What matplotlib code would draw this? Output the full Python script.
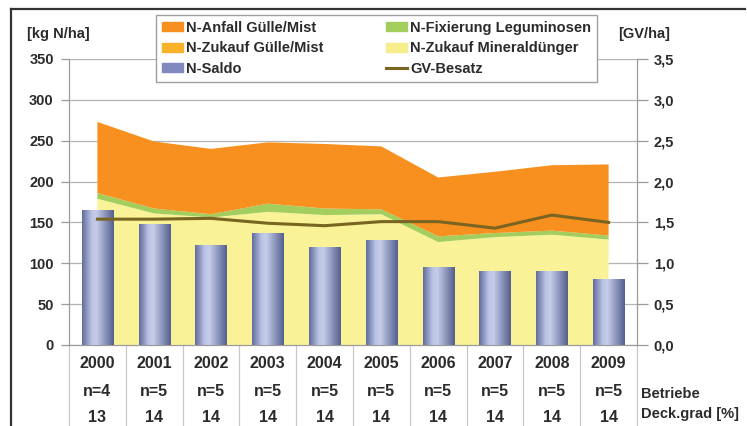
import numpy as np
import matplotlib
matplotlib.use("Agg")
import matplotlib.pyplot as plt
from matplotlib.colors import LinearSegmentedColormap
from matplotlib.patches import Patch
from matplotlib.lines import Line2D
from matplotlib.ticker import FuncFormatter

years = ["2000", "2001", "2002", "2003", "2004", "2005", "2006", "2007", "2008", "2009"]
betriebe = [4, 5, 5, 5, 5, 5, 5, 5, 5, 5]
deckgrad = [13, 14, 14, 14, 14, 14, 14, 14, 14, 14]

# kg N/ha
n_mineral = [179, 161, 156, 163, 159, 160, 126, 132, 135, 129]
n_legum = [7, 6, 4, 10, 8, 6, 7, 5, 5, 5]
n_zukauf_guelle = [0, 0, 0, 0, 0, 0, 0, 0, 0, 0]
n_anfall = [87, 82, 80, 75, 79, 77, 72, 75, 80, 87]
n_saldo = [165, 148, 122, 137, 120, 129, 95, 90, 90, 81]

# GV/ha
gv_besatz = [1.54, 1.54, 1.55, 1.49, 1.46, 1.51, 1.51, 1.43, 1.59, 1.50]

c_anfall = "#F7901E"
c_zukauf = "#FBB12A"
c_legum = "#A3CD5C"
c_mineral = "#FAF296"
c_gv = "#7A6422"
c_text = "#2b2b2b"

plt.rcParams["font.family"] = ["Liberation Sans", "DejaVu Sans"]
plt.rcParams["font.weight"] = "bold"

W, H = 747, 426
fig = plt.figure(figsize=(W / 100, H / 100), dpi=100)
ax = fig.add_axes([69 / W, 1 - 345 / H, 568 / W, 286 / H])
ax2 = ax.twinx()

x = np.arange(len(years))

ax.stackplot(x, n_mineral, n_legum, n_zukauf_guelle, n_anfall,
             colors=[c_mineral, c_legum, c_zukauf, c_anfall],
             linewidth=0, zorder=1)

# bars with cylinder-like gradient
cmap = LinearSegmentedColormap.from_list(
    "bar", [(0.0, "#636D9E"), (0.3, "#BCC4E4"), (0.45, "#C6CDEA"), (1.0, "#55608F")])
grad = np.linspace(0, 1, 64).reshape(1, -1)
bars = ax.bar(x, n_saldo, width=0.55, color="none", edgecolor="none", zorder=3)
for b in bars:
    im = ax.imshow(grad, cmap=cmap, aspect="auto", zorder=3,
                   extent=[b.get_x(), b.get_x() + b.get_width(), 0, b.get_height()])
    im.set_clip_path(b)

ax.set_xlim(-0.5, len(years) - 0.5)
ax.set_ylim(0, 350)
ax.set_yticks(np.arange(0, 351, 50))
ax.set_xticks([])
ax.grid(axis="y", color="#b4b4b4", linewidth=0.9)
ax.set_axisbelow(True)

ax2.plot(x, gv_besatz, color=c_gv, linewidth=2.2, zorder=5)
ax2.set_ylim(0, 3.5)
ax2.set_yticks(np.arange(0, 3.51, 0.5))
ax2.yaxis.set_major_formatter(FuncFormatter(lambda v, p: f"{v:.1f}".replace(".", ",")))

for a in (ax, ax2):
    a.spines["top"].set_visible(False)
    for s in ("left", "right", "bottom"):
        a.spines[s].set_color("#9a9a9a")
ax.tick_params(axis="y", length=6, width=0.9, color="#9a9a9a", pad=5,
               labelsize=10.5, labelcolor=c_text)
ax2.tick_params(axis="y", length=8, width=0.9, color="#9a9a9a", pad=4,
                labelsize=10.5, labelcolor=c_text)

# table under the axis
xt = ax.get_xaxis_transform()
ax.vlines(np.arange(-0.5, len(years)), -0.4, 0, transform=xt, clip_on=False,
          color="#c8c8c8", linewidth=0.9)
for i in range(len(years)):
    ax.text(i, -0.063, years[i], transform=xt, ha="center", va="center",
            fontsize=11.5, color=c_text)
    ax.text(i, -0.164, f"n={betriebe[i]}", transform=xt, ha="center", va="center",
            fontsize=11.5, color=c_text)
    ax.text(i, -0.252, str(deckgrad[i]), transform=xt, ha="center", va="center",
            fontsize=11.5, color=c_text)
fig.text(641 / W, 1 - 394 / H, "Betriebe", ha="left", va="center",
         fontsize=10.5, color=c_text)
fig.text(641 / W, 1 - 414 / H, "Deck.grad [%]", ha="left", va="center",
         fontsize=10.5, color=c_text)

fig.text(27 / W, 1 - 34 / H, "[kg N/ha]", ha="left", va="center",
         fontsize=10.5, color=c_text)
fig.text(618 / W, 1 - 34 / H, "[GV/ha]", ha="left", va="center",
         fontsize=10.5, color=c_text)

handles = [
    Patch(color=c_anfall, label="N-Anfall Gülle/Mist"),
    Patch(color=c_zukauf, label="N-Zukauf Gülle/Mist"),
    Patch(color="#7F89BE", label="N-Saldo"),
    Patch(color=c_legum, label="N-Fixierung Leguminosen"),
    Patch(color="#F6EE8C", label="N-Zukauf Mineraldünger"),
    Line2D([], [], color=c_gv, linewidth=2.2, label="GV-Besatz"),
]
leg = fig.legend(handles=handles, ncol=2, loc="upper left",
                 bbox_to_anchor=(156 / W, 1 - 15 / H), fontsize=10.5,
                 frameon=True, fancybox=False, framealpha=1, edgecolor="#a0a0a0",
                 handlelength=1.45, handleheight=0.55, handletextpad=0.2,
                 columnspacing=4.3, labelspacing=0.45, borderpad=0.4,
                 borderaxespad=0)
leg.get_frame().set_linewidth(1.0)
for t in leg.get_texts():
    t.set_color(c_text)

# outer frame
fig.add_artist(Line2D([11 / W, 11 / W], [0, 1 - 9 / H], transform=fig.transFigure,
                      color="#333333", linewidth=1.6))
fig.add_artist(Line2D([11 / W, 745 / W], [1 - 9 / H, 1 - 9 / H],
                      transform=fig.transFigure, color="#333333", linewidth=1.6))

fig.savefig("out.png", dpi=100)
